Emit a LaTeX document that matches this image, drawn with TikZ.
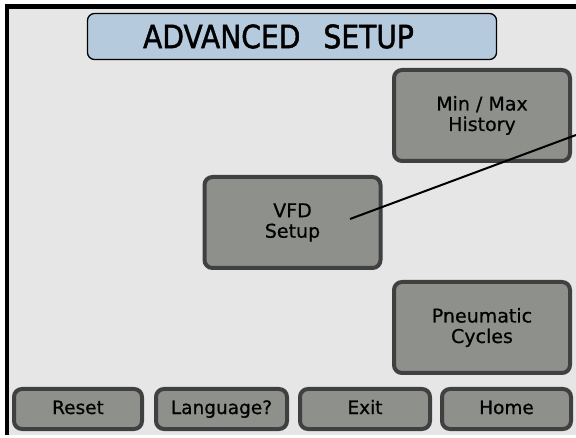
\documentclass[tikz,border=0pt]{standalone}
\usepackage{fontspec}
\usepackage{graphicx}
\usepackage{xcolor}
\setmainfont{DejaVu Sans}
\newfontfamily\bannerfont{DejaVu Sans}[FakeBold=1.6]
\newfontfamily\keyfont{DejaVu Sans}[FakeBold=0.6]
\definecolor{panel}{HTML}{E6E6E6}
\definecolor{keyfill}{HTML}{8E908C}
\definecolor{keyedge}{HTML}{404040}
\definecolor{titlefill}{HTML}{B6CADE}

\begin{document}
\begin{tikzpicture}[x=1pt, y=-1pt, key/.style={draw=keyedge, line width=4pt, fill=keyfill, rounded corners=8pt, align=center, inner sep=0pt, font=\keyfont\fontsize{19}{20.5}\selectfont}, bigkey/.style={key, minimum width=176pt, minimum height=91pt}, softkey/.style={key, minimum height=40pt, text height=14pt, text depth=4pt, font=\keyfont\fontsize{18.5}{20}\selectfont}, banner/.style={draw=black, line width=1.3pt, fill=titlefill, rounded corners=7pt, minimum width=409pt, minimum height=46pt, inner sep=0pt, font=\bannerfont\fontsize{32}{34}\selectfont}]
  \useasboundingbox (0,0) rectangle (576,438);
  % screen frame
  \fill[white] (0,0) rectangle (576,438);
  \fill[black] (4.5,4.5) rectangle (576,435);
  \fill[panel] (9,9) rectangle (576,434.5);

  \node[banner](title) at (292,36.5){\scalebox{0.88}[1]{ADVANCED\hspace{0.5em} SETUP}\kern27pt\null};

  \node[bigkey](minmax) at (482,115.5){Min / Max\\History};
  \node[bigkey](vfd) at (292.5,222.5){VFD\\Setup};
  \node[bigkey](pneu) at (482,327.5){Pneumatic\\Cycles};

  \node[softkey, minimum width=128pt](reset) at (78,409){Reset};
  \node[softkey, minimum width=131pt](lang) at (221.5,409){Language?};
  \node[softkey, minimum width=130pt](exit) at (365,409){Exit};
  \node[softkey, minimum width=129pt](home) at (506.5,409){Home};

  \coordinate (pick) at (350,219);
  \coordinate (callout) at (576,135);
  \draw[line width=2pt] (pick) -- (callout);
\end{tikzpicture}
\end{document}
